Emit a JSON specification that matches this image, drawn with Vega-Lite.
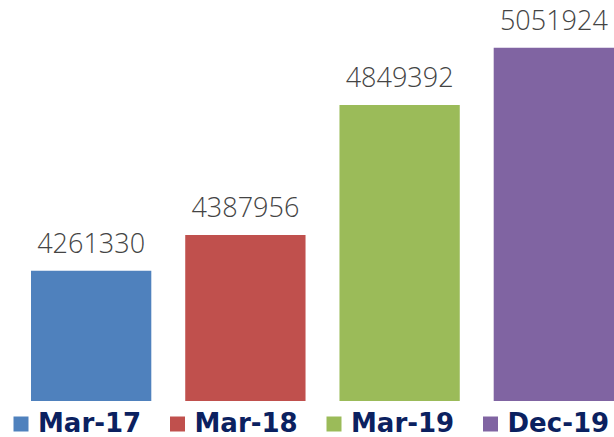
{
  "$schema": "https://vega.github.io/schema/vega-lite/v6.json",
  "width": 583,
  "height": 395,
  "autosize": {"type": "none"},
  "padding": {"left": 31, "top": 6, "right": 0, "bottom": 36},
  "background": "white",
  "config": {"view": {"stroke": null}},
  "data": {
    "values": [
      {"period": "Mar-17", "value": 4261330},
      {"period": "Mar-18", "value": 4387956},
      {"period": "Mar-19", "value": 4849392},
      {"period": "Dec-19", "value": 5051924}
    ]
  },
  "encoding": {
    "x": {
      "field": "period",
      "type": "nominal",
      "sort": null,
      "axis": null,
      "scale": {"paddingInner": 0.22, "paddingOuter": 0}
    },
    "y": {
      "field": "value",
      "type": "quantitative",
      "axis": null,
      "scale": {"domain": [3800000, 5200000], "zero": false, "clamp": true}
    }
  },
  "layer": [
    {
      "mark": {"type": "bar", "clip": true},
      "encoding": {
        "color": {
          "field": "period",
          "type": "nominal",
          "sort": null,
          "scale": {
            "domain": ["Mar-17", "Mar-18", "Mar-19", "Dec-19"],
            "range": ["#4F81BD", "#C0504D", "#9BBB59", "#8064A2"]
          },
          "legend": {
            "title": null,
            "orient": "none",
            "legendX": -23,
            "legendY": 405,
            "direction": "horizontal",
            "columns": 4,
            "symbolType": "square",
            "symbolSize": 225,
            "symbolStrokeWidth": 0,
            "labelFont": "DejaVu Sans",
            "labelFontWeight": "bold",
            "labelFontSize": 26,
            "labelColor": "#0B2160",
            "labelOffset": 4,
            "labelLimit": 200,
            "columnPadding": 22.5,
            "padding": 0
          }
        }
      }
    },
    {
      "mark": {
        "type": "text",
        "baseline": "alphabetic",
        "dy": -18,
        "font": "Open Sans",
        "fontWeight": 300,
        "fontSize": 27,
        "color": "#444444"
      },
      "encoding": {
        "text": {"field": "value", "type": "quantitative", "format": "d"}
      }
    }
  ]
}
